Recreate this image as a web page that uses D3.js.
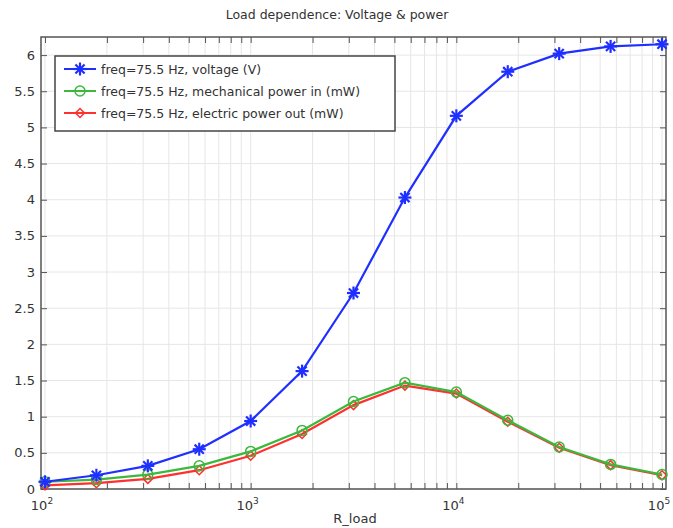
<!DOCTYPE html>
<html>
<head>
<meta charset="utf-8">
<script src="https://cdn.jsdelivr.net/npm/d3@7"></script>
<style>
  body { margin: 0; background: #fff; }
  text { font-family: "DejaVu Sans", sans-serif; fill: #333; }
</style>
</head>
<body>
<svg width="673" height="528"></svg>
<script>
// load resistance (ohm), 13 points, log spaced
var rLoad = [100, 177.8, 316.2, 562.3, 1000, 1778, 3162, 5623, 10000, 17783, 31623, 56234, 100000]
var voltage = [0.10, 0.19, 0.32, 0.55, 0.94, 1.63, 2.71, 4.03, 5.16, 5.77, 6.02, 6.12, 6.15]
var mechPower = [0.10, 0.13, 0.20, 0.32, 0.52, 0.81, 1.21, 1.47, 1.34, 0.95, 0.58, 0.34, 0.20]
var elecPower = [0.05, 0.08, 0.14, 0.26, 0.46, 0.76, 1.16, 1.43, 1.32, 0.93, 0.57, 0.33, 0.19]
var seriesNames = ['freq=75.5 Hz, voltage (V)', 'freq=75.5 Hz, mechanical power in (mW)', 'freq=75.5 Hz, electric power out (mW)']
var yTicks = [0, 0.5, 1, 1.5, 2, 2.5, 3, 3.5, 4, 4.5, 5, 5.5, 6]
var xTicks = [100, 1000, 10000, 100000]

// plot box (don't call it "top", that's window.top)
var pL = 41, pR = 666, pT = 37, pB = 489

var svg = d3.select('svg')

var x = d3.scaleLog()
    .domain([Math.pow(10, 1.9806), Math.pow(10, 5.0194)])
    .range([pL, pR])
var y = d3.scaleLinear()
    .domain([0, 6.25])
    .range([pB, pT])

// minor log ticks
var minor = []
for (var e = 2; e < 5; e++) {
    for (var k = 1; k < 10; k++) minor.push(k * Math.pow(10, e))
}
minor.push(100000)

// grid
var grid = svg.append('g')
grid.selectAll('.gx')
    .data(minor)
    .enter()
    .append('line')
    .attr('x1', function(d) { return x(d) })
    .attr('x2', function(d) { return x(d) })
    .attr('y1', pT)
    .attr('y2', pB)
    .attr('stroke', '#e6e6e6')
    .attr('stroke-width', 1)
grid.selectAll('.gy')
    .data(yTicks)
    .enter()
    .append('line')
    .attr('x1', pL)
    .attr('x2', pR)
    .attr('y1', function(d) { return y(d) })
    .attr('y2', function(d) { return y(d) })
    .attr('stroke', '#e6e6e6')
    .attr('stroke-width', 1)

// axes with inward ticks
var xb = svg.append('g').attr('transform', 'translate(0,' + pB + ')')
    .call(d3.axisBottom(x).tickValues(minor).tickSize(-6).tickFormat(''))
var xt = svg.append('g').attr('transform', 'translate(0,' + pT + ')')
    .call(d3.axisTop(x).tickValues(minor).tickSize(-6).tickFormat(''))
var yl = svg.append('g').attr('transform', 'translate(' + pL + ',0)')
    .call(d3.axisLeft(y).tickValues(yTicks).tickSize(-6).tickFormat(''))
var yr = svg.append('g').attr('transform', 'translate(' + pR + ',0)')
    .call(d3.axisRight(y).tickValues(yTicks).tickSize(-6).tickFormat(''))
;[xb, xt, yl, yr].forEach(function(g) {
    g.select('.domain').remove()
    g.selectAll('line').attr('stroke', '#555')
})

svg.append('rect')
    .attr('x', pL).attr('y', pT)
    .attr('width', pR - pL).attr('height', pB - pT)
    .attr('fill', 'none').attr('stroke', '#555').attr('stroke-width', 1.5)

// tick labels
svg.selectAll('.ylab')
    .data(yTicks)
    .enter()
    .append('text')
    .attr('x', pL - 6)
    .attr('y', function(d) { return y(d) + 4.5 })
    .attr('text-anchor', 'end')
    .attr('font-size', 13)
    .text(function(d) { return d })

var xl = svg.selectAll('.xlab')
    .data(xTicks)
    .enter()
    .append('text')
    .attr('x', function(d) { return x(d) - 3 })
    .attr('y', pB + 21)
    .attr('text-anchor', 'middle')
    .attr('font-size', 13)
xl.append('tspan').text('10')
xl.append('tspan').attr('dy', -6).attr('font-size', 9).text(function(d) { return Math.round(Math.log10(d)) })

svg.append('text')
    .attr('x', 337).attr('y', 19)
    .attr('text-anchor', 'middle')
    .attr('font-size', 12.5)
    .text('Load dependence: Voltage & power')
svg.append('text')
    .attr('x', 355).attr('y', 523)
    .attr('text-anchor', 'middle')
    .attr('font-size', 13)
    .text('R_load')

// series
var series = [
    { vals: voltage, color: '#1f2fff', mark: 'star' },
    { vals: mechPower, color: '#3cb83c', mark: 'circle' },
    { vals: elecPower, color: '#ff3030', mark: 'diamond' }
]

var line = d3.line()
    .x(function(d) { return x(d[0]) })
    .y(function(d) { return y(d[1]) })

function drawMark(g, cx, cy, s, color) {
    if (s == 'star') {
        var r = 6.5
        for (var i = 0; i < 4; i++) {
            var a = i * Math.PI / 4
            g.append('line')
                .attr('x1', cx - r * Math.cos(a)).attr('y1', cy - r * Math.sin(a))
                .attr('x2', cx + r * Math.cos(a)).attr('y2', cy + r * Math.sin(a))
                .attr('stroke', color).attr('stroke-width', 2.2)
        }
    } else if (s == 'circle') {
        g.append('circle').attr('cx', cx).attr('cy', cy).attr('r', 5)
            .attr('fill', 'none').attr('stroke', color).attr('stroke-width', 1.5)
    } else {
        var r2 = 4.5
        g.append('path')
            .attr('d', 'M' + cx + ',' + (cy - r2) + 'L' + (cx + r2) + ',' + cy + 'L' + cx + ',' + (cy + r2) + 'L' + (cx - r2) + ',' + cy + 'Z')
            .attr('fill', 'none').attr('stroke', color).attr('stroke-width', 1.5)
    }
}

series.slice().reverse().forEach(function(s) {
    var pts = rLoad.map(function(r, i) { return [r, s.vals[i]] })
    var g = svg.append('g')
    g.append('path')
        .attr('d', line(pts))
        .attr('fill', 'none')
        .attr('stroke', s.color)
        .attr('stroke-width', 2.2)
    pts.forEach(function(p) {
        drawMark(g, x(p[0]), y(p[1]), s.mark, s.color)
    })
})

// legend
var leg = svg.append('g')
leg.append('rect')
    .attr('x', 55).attr('y', 56)
    .attr('width', 340).attr('height', 75)
    .attr('fill', '#fff').attr('stroke', '#444').attr('stroke-width', 1.5)
series.forEach(function(s, i) {
    var ly = 69 + i * 22
    leg.append('line')
        .attr('x1', 64).attr('x2', 96)
        .attr('y1', ly).attr('y2', ly)
        .attr('stroke', s.color).attr('stroke-width', 2)
    drawMark(leg, 80, ly, s.mark, s.color)
    leg.append('text')
        .attr('x', 101).attr('y', ly + 4.5)
        .attr('font-size', 12.5)
        .text(seriesNames[i])
})
</script>
</body>
</html>
